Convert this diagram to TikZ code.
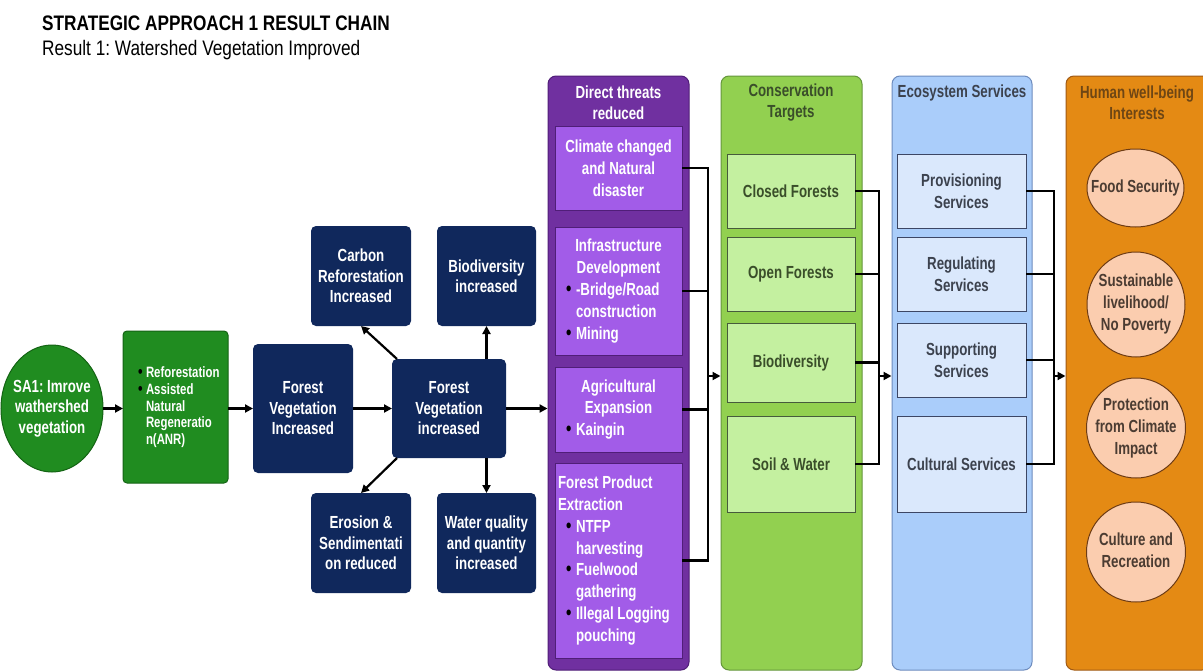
\documentclass[tikz,border=0pt]{standalone}
\usepackage{fontspec}
\setmainfont{Liberation Sans}[FakeStretch=0.76]
\newfontfamily\titlefont{Liberation Sans}[FakeStretch=0.82]
\usetikzlibrary{arrows.meta,shapes.geometric}

\definecolor{navy}{RGB}{16,40,92}
\definecolor{leafgreen}{RGB}{32,140,32}
\definecolor{leafedge}{RGB}{20,100,20}
\definecolor{dtouter}{RGB}{112,48,160}
\definecolor{dtedge}{RGB}{80,30,120}
\definecolor{dtinner}{RGB}{162,92,232}
\definecolor{ctouter}{RGB}{146,208,80}
\definecolor{ctedge}{RGB}{100,150,60}
\definecolor{ctinner}{RGB}{196,240,160}
\definecolor{ctline}{RGB}{70,90,60}
\definecolor{cttext}{RGB}{58,78,42}
\definecolor{esouter}{RGB}{170,205,250}
\definecolor{esedge}{RGB}{110,140,190}
\definecolor{esinner}{RGB}{218,232,252}
\definecolor{esline}{RGB}{60,70,100}
\definecolor{estext}{RGB}{60,66,78}
\definecolor{hwouter}{RGB}{228,138,20}
\definecolor{hwedge}{RGB}{160,90,20}
\definecolor{hwcircle}{RGB}{251,205,175}
\definecolor{hwline}{RGB}{110,60,20}
\definecolor{hwhead}{RGB}{110,70,20}
\definecolor{hwtext}{RGB}{75,60,50}

\frenchspacing
\newcommand\fs[2]{\fontsize{#1}{#2}\selectfont}
\newcommand\blackdot[1]{\textcolor{black}{\fontsize{#1}{#1}\selectfont\textbullet}}
% bullet items inside the threat boxes
\newcommand\tb{\hspace*{8pt}\makebox[10pt][l]{\blackdot{20}}}
\newcommand\tc{\hspace*{18pt}}
% bullet items inside the activity box
\newcommand\gb{\hspace*{10pt}\makebox[8pt][l]{\blackdot{17}}}
\newcommand\gc{\hspace*{18pt}}
% centred lines whose width does not set the size of an oval
\newcommand\zw[1]{\makebox[0pt][c]{\begin{tabular}{@{}c@{}}#1\end{tabular}}}

\tikzset{
  base/.style={inner sep=0pt, outer sep=0pt, font=\bfseries\fs{17.5}{20.5}, align=center},
  navybox/.style={base, rectangle, rounded corners=5pt, fill=navy, text=white,
    minimum width=100pt, minimum height=100pt},
  panel/.style={rectangle, rounded corners=8pt, line width=1pt, minimum height=594pt},
  dtbox/.style={base, rectangle, fill=dtinner, draw=dtedge, line width=1pt, text=white,
    minimum width=127pt, font=\bfseries\fs{17.5}{21.8}},
  dtlist/.style={dtbox, text width=121pt, align=flush left},
  ctbox/.style={base, rectangle, fill=ctinner, draw=ctline, line width=1pt, text=cttext,
    minimum width=128pt},
  esbox/.style={base, rectangle, fill=esinner, draw=esline, line width=1pt, text=estext,
    minimum width=129pt, font=\bfseries\fs{17.5}{21.5}},
  hwbox/.style={base, ellipse, fill=hwcircle, draw=hwline, line width=1pt, text=hwtext,
    font=\bfseries\fs{17.5}{22}},
  heading/.style={base, font=\bfseries\fs{17.5}{21}},
  arr/.style={line width=2.2pt, -{Triangle[length=8pt,width=8pt]}},
  link/.style={line width=2.2pt},
}

\begin{document}
\begin{tikzpicture}[x=1pt,y=-1pt]
\path[use as bounding box] (0,0) rectangle (1203,672);
\clip (0,0) rectangle (1203,672);
\fill[white] (0,0) rectangle (1203,672);

% titles
\node[anchor=base west, inner sep=0pt, font=\titlefont\bfseries\fs{21}{24}] (title) at (42,30)
  {STRATEGIC APPROACH 1 RESULT CHAIN};
\node[anchor=base west, inner sep=0pt, font=\titlefont\fs{21}{24}] (subtitle) at (42,55)
  {Result 1: Watershed Vegetation Improved};

% strategy and activities
\node[base, ellipse, fill=leafgreen, draw=leafedge, line width=1pt, text=white,
  minimum width=102pt, minimum height=127pt] (sa1) at (52,408.5)
  {\zw{SA1: Imrove\\wathershed\\vegetation}};
\node[base, rectangle, rounded corners=4pt, fill=leafgreen, draw=leafedge, line width=1pt,
  text=white, minimum width=105pt, minimum height=152pt, text width=95pt, align=flush left,
  font=\bfseries\fs{15}{16.5}] (act) at (175.5,407)
  {\gb Reforestation\\[1pt]\gb Assisted\\\gc Natural\\\gc Regeneratio\\\gc n(ANR)};

% intermediate results
\node[navybox, minimum height=129pt] (fv1) at (303,408.5) {Forest\\Vegetation\\Increased};
\node[navybox, minimum width=114pt, minimum height=99pt] (fv2) at (449,408.5)
  {Forest\\Vegetation\\increased};
\node[navybox] (carb) at (361,276) {Carbon\\Reforestation\\Increased};
\node[navybox, minimum width=99pt] (bio) at (486.5,276) {Biodiversity\\increased};
\node[navybox] (eros) at (361,543) {Erosion \&\\Sendimentati\\on reduced};
\node[navybox, minimum width=99pt] (water) at (486.5,543) {Water quality\\and quantity\\increased};

% column panels
\node[panel, fill=dtouter, draw=dtedge, minimum width=141pt] (dtp) at (618.5,373) {};
\node[panel, fill=ctouter, draw=ctedge, minimum width=141pt] (ctp) at (791.5,373) {};
\node[panel, fill=esouter, draw=esedge, minimum width=140pt] (esp) at (962,373) {};
\node[panel, fill=hwouter, draw=hwedge, minimum width=144pt] (hwp) at (1138,373) {};

\node[heading, text=white] (dth) at (618.5,103) {Direct threats\\reduced};
\node[heading, text=cttext] (cth) at (791,103) {Conservation\\Targets};
\node[heading, text=estext] (esh) at (962,93) {Ecosystem Services};
\node[heading, text=hwhead] (hwh) at (1137,103) {Human well-being\\Interests};

% direct threats
\node[dtbox, minimum height=84pt] (dt1) at (618.5,168) {Climate changed\\and Natural\\disaster};
\node[dtlist, minimum height=128pt] (dt2) at (618.5,291)
  {\makebox[121pt][c]{Infrastructure}\\\makebox[121pt][c]{Development}\\
   \tb -Bridge/Road\\\tc construction\\\tb Mining};
\node[dtlist, minimum height=85pt] (dt3) at (618.5,409.5)
  {\makebox[121pt][c]{Agricultural}\\\makebox[121pt][c]{Expansion}\\\tb Kaingin};
\node[dtlist, minimum height=195pt] (dt4) at (618.5,560.5)
  {Forest Product\\Extraction\\\tb NTFP\\\tc harvesting\\\tb Fuelwood\\\tc gathering\\
   \tb Illegal Logging\\\tc pouching};

% conservation targets
\node[ctbox, minimum height=74pt] (ct1) at (791,191) {Closed Forests};
\node[ctbox, minimum height=74pt] (ct2) at (791,274) {Open Forests};
\node[ctbox, minimum height=79pt] (ct3) at (791,362.5) {Biodiversity};
\node[ctbox, minimum height=96pt] (ct4) at (791,464) {Soil \& Water};

% ecosystem services
\node[esbox, minimum height=74pt] (es1) at (961.5,191) {Provisioning\\Services};
\node[esbox, minimum height=74pt] (es2) at (961.5,274) {Regulating\\Services};
\node[esbox, minimum height=74pt] (es3) at (961.5,360) {Supporting\\Services};
\node[esbox, minimum height=96pt] (es4) at (961.5,464) {Cultural Services};

% human well-being interests
\node[hwbox, minimum width=97pt, minimum height=78pt] (hw1) at (1135.5,188) {\zw{Food Security}};
\node[hwbox, minimum width=98pt, minimum height=105pt] (hw2) at (1136,304.5)
  {\zw{Sustainable\\livelihood/\\No Poverty}};
\node[hwbox, minimum width=99pt, minimum height=100pt] (hw3) at (1136,428)
  {\zw{Protection\\from Climate\\Impact}};
\node[hwbox, minimum width=99pt, minimum height=100pt] (hw4) at (1136,552)
  {\zw{Culture and\\Recreation}};

% main chain
\draw[arr] (sa1.east) -- (sa1.east -| act.west);
\draw[arr] (act.east |- fv1.west) -- (fv1.west);
\draw[arr] (fv1.east) -- (fv2.west);
\draw[arr] (fv2.east) -- (fv2.east -| dtp.west);

% side results
\draw[arr] ([xshift=5pt]fv2.north west) -- (carb.south);
\draw[arr] (bio.south |- fv2.north) -- (bio.south);
\draw[arr] ([xshift=5pt]fv2.south west) -- (eros.north);
\draw[arr] (water.north |- fv2.south) -- (water.north);

% threats to targets
\coordinate (busA) at (708,376);
\foreach \n in {dt1,dt2,dt3,dt4} \draw[link] (\n.east) -- (\n.east -| busA);
\draw[link, line cap=rect] (dt1.east -| busA) -- (dt4.east -| busA);
\draw[arr] (busA) -- (busA -| ctp.west);

% targets to services
\coordinate (busB) at (879,376);
\foreach \n in {ct1,ct2,ct3,ct4} \draw[link] (\n.east) -- (\n.east -| busB);
\draw[link, line cap=rect] (ct1.east -| busB) -- (ct4.east -| busB);
\draw[arr] (busB) -- (busB -| esp.west);

% services to well-being
\coordinate (busC) at (1054,376);
\foreach \n in {es1,es2,es3,es4} \draw[link] (\n.east) -- (\n.east -| busC);
\draw[link, line cap=rect] (es1.east -| busC) -- (es4.east -| busC);
\draw[arr] (busC) -- (busC -| hwp.west);
\end{tikzpicture}
\end{document}
